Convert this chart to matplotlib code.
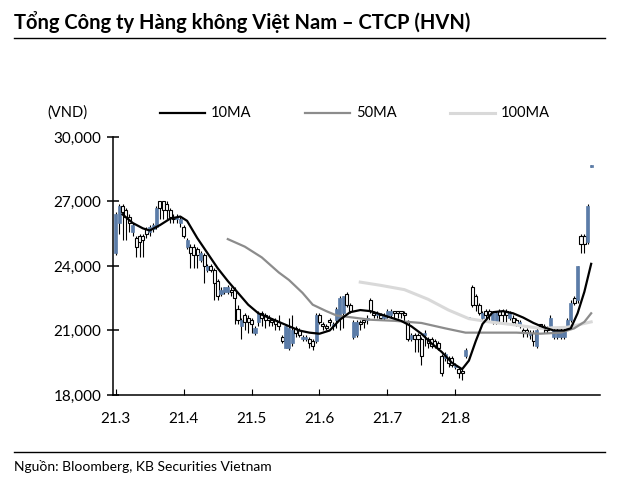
import matplotlib.pyplot as plt
from matplotlib.lines import Line2D
from matplotlib.ticker import FuncFormatter

plt.rcParams['font.family'] = ['Lato', 'DejaVu Sans']

# Giá HVN theo ngày (nghìn VND): open, high, low, close
opens = [24.6, 26.0, 26.8, 26.6, 26.3, 25.6, 25.3, 25.4, 25.4, 25.7,
         25.6, 25.7, 25.8, 27.0, 27.0, 26.9, 26.6, 26.3, 26.2, 26.0,
         25.8, 24.9, 24.9, 24.9, 24.8, 24.3, 24.5, 23.8, 24.0, 23.8,
         23.3, 22.7, 22.8, 22.8, 22.9, 22.9, 22.0, 21.2, 21.7, 21.6,
         21.5, 20.9, 21.4, 21.8, 21.7, 21.6, 21.5, 21.5, 21.4, 20.7,
         20.2, 20.2, 20.4, 21.1, 21.0, 20.6, 20.6, 20.6, 20.5, 20.5,
         21.7, 21.3, 21.2, 21.5, 21.2, 21.5, 21.6, 21.8, 22.7, 22.2,
         20.7, 20.8, 21.4, 21.5, 21.5, 22.4, 21.8, 21.7, 21.7, 21.6,
         21.7, 21.7, 21.9, 21.9, 21.9, 21.8, 21.4, 20.6, 20.8, 20.8,
         20.6, 20.8, 20.6, 20.6, 20.5, 20.4, 19.8, 19.7, 19.7, 19.7,
         19.3, 19.2, 19.1, 19.8, 21.6, 23.0, 22.6, 22.2, 21.6, 21.9,
         21.9, 21.4, 21.4, 21.9, 21.9, 21.9, 21.6, 21.6, 21.5, 21.2,
         21.0, 21.0, 20.8, 20.9, 20.3, 21.3, 21.2, 21.1, 21.2, 20.7,
         20.7, 20.7, 20.7, 21.1, 21.5, 22.5, 22.4, 25.4, 25.4, 25.1,
         28.6]
closes = [26.4, 26.8, 26.5, 26.3, 26.0, 25.9, 24.9, 25.1, 25.2, 25.5,
          25.8, 25.9, 26.7, 26.7, 26.6, 26.6, 26.3, 26.2, 26.3, 26.2,
          25.4, 25.2, 24.6, 24.5, 24.5, 24.6, 24.0, 24.0, 23.8, 23.2,
          22.6, 22.9, 23.0, 23.0, 22.8, 22.5, 21.5, 21.5, 21.4, 21.4,
          21.3, 21.1, 21.8, 21.6, 21.5, 21.5, 21.4, 21.3, 21.2, 20.5,
          21.2, 21.1, 21.0, 20.9, 20.8, 20.7, 20.7, 20.4, 20.3, 21.7,
          21.4, 21.2, 21.1, 21.4, 21.3, 22.0, 22.5, 22.6, 22.2, 21.9,
          21.4, 21.4, 21.3, 21.4, 21.6, 21.9, 21.7, 21.8, 21.6, 21.7,
          21.9, 21.9, 21.8, 21.8, 21.8, 21.7, 20.6, 20.8, 20.6, 20.6,
          19.8, 20.9, 20.4, 20.3, 20.3, 20.2, 19.0, 19.9, 19.5, 19.4,
          19.4, 19.0, 19.0, 20.1, 21.6, 22.2, 22.2, 21.8, 21.8, 21.7,
          21.7, 21.8, 21.8, 21.7, 21.7, 21.7, 21.8, 21.4, 21.3, 21.4,
          20.9, 20.9, 20.9, 20.5, 21.0, 21.2, 21.1, 21.0, 21.6, 21.0,
          21.0, 21.0, 21.0, 21.5, 22.3, 22.3, 24.0, 25.0, 25.0, 26.8,
          28.7]
highs = [26.5, 26.9, 26.9, 26.7, 26.4, 26.0, 25.4, 25.5, 25.5, 25.8,
         25.9, 26.0, 26.8, 27.0, 27.0, 27.0, 26.7, 26.4, 26.4, 26.3,
         25.9, 25.3, 25.0, 25.0, 24.9, 24.7, 24.6, 24.1, 24.1, 23.9,
         23.4, 23.0, 23.0, 23.1, 23.0, 23.0, 22.2, 21.6, 21.8, 21.7,
         21.6, 21.2, 21.9, 21.9, 21.8, 21.7, 21.6, 21.6, 21.7, 20.8,
         21.3, 21.6, 21.7, 21.2, 21.1, 20.8, 20.8, 20.7, 20.6, 21.8,
         21.8, 21.4, 21.3, 21.6, 21.4, 22.1, 22.6, 22.6, 22.8, 22.3,
         21.5, 21.5, 21.5, 21.6, 21.7, 22.5, 21.9, 21.9, 21.8, 21.8,
         22.0, 22.0, 21.9, 21.9, 21.9, 21.9, 21.5, 20.9, 20.9, 20.9,
         20.7, 21.0, 20.7, 20.7, 20.6, 20.5, 19.9, 20.0, 19.8, 19.8,
         19.5, 19.3, 19.2, 20.2, 21.6, 23.1, 22.7, 22.3, 21.9, 22.0,
         22.0, 21.9, 21.9, 22.0, 22.0, 22.0, 21.9, 21.7, 21.6, 21.5,
         21.1, 21.1, 21.0, 21.0, 21.1, 21.3, 21.3, 21.2, 21.7, 21.1,
         21.1, 21.1, 21.1, 21.6, 22.4, 22.6, 24.0, 25.5, 25.5, 26.9,
         28.7]
lows = [24.5, 25.5, 25.2, 25.2, 25.6, 25.4, 24.4, 24.4, 24.4, 25.3,
        25.4, 25.6, 25.7, 26.2, 26.2, 26.2, 26.0, 26.0, 26.0, 25.8,
        25.3, 24.8, 23.9, 23.9, 23.9, 24.2, 23.2, 23.7, 23.7, 22.4,
        22.4, 22.6, 22.7, 22.7, 22.6, 21.3, 21.3, 20.6, 21.0, 20.9,
        20.9, 20.8, 21.2, 21.2, 21.1, 21.2, 21.2, 21.0, 21.0, 20.4,
        20.2, 20.1, 20.3, 20.7, 20.7, 20.5, 20.5, 20.2, 20.1, 20.4,
        21.3, 21.0, 21.0, 21.2, 21.0, 21.1, 21.0, 21.1, 22.1, 21.8,
        20.6, 20.7, 21.0, 21.1, 21.3, 21.8, 21.6, 21.6, 21.5, 21.5,
        21.6, 21.6, 21.6, 21.6, 21.6, 21.4, 20.5, 20.5, 20.0, 20.0,
        19.4, 20.3, 20.2, 20.2, 20.2, 20.1, 18.9, 19.6, 19.3, 19.3,
        19.2, 18.8, 18.7, 19.7, 21.6, 22.1, 21.9, 21.7, 21.5, 21.5,
        21.5, 21.3, 21.3, 21.4, 21.4, 21.4, 21.5, 21.3, 21.2, 21.1,
        20.7, 20.7, 20.6, 20.3, 20.2, 21.1, 20.9, 20.9, 21.1, 20.6,
        20.6, 20.6, 20.6, 21.0, 21.4, 22.2, 22.3, 24.6, 24.6, 25.0,
        28.6]

# Đường trung bình động (nghìn VND), theo chỉ số phiên
ma10_day = [2, 5, 8, 10, 13, 16, 19, 21, 24, 27, 30, 33, 36, 39, 42, 45,
            48, 51, 54, 57, 60, 63, 66, 69, 72, 75, 78, 81, 84, 87, 90, 93,
            96, 99, 102, 104, 106, 108, 111, 114, 117, 120, 123, 126, 129,
            132, 134, 136, 138, 140]
ma10 = [26.4, 26.0, 25.75, 25.65, 25.9, 26.2, 26.3, 26.1, 25.3, 24.6,
        23.9, 23.3, 22.75, 22.2, 21.8, 21.6, 21.4, 21.2, 21.0, 20.9,
        20.85, 21.0, 21.5, 21.85, 21.95, 21.9, 21.75, 21.6, 21.45, 21.2,
        20.85, 20.4, 20.0, 19.5, 19.2, 19.6, 20.5, 21.3, 21.85, 21.9,
        21.8, 21.6, 21.35, 21.15, 21.0, 21.0, 21.1, 21.8, 22.8, 24.1]
ma50_day = [33, 38, 43, 48, 51, 55, 58, 62, 65, 70, 75, 82, 90, 97, 103,
            110, 118, 125, 131, 135, 138, 140]
ma50 = [25.25, 24.9, 24.4, 23.7, 23.35, 22.75, 22.2, 21.9, 21.7, 21.6,
        21.5, 21.45, 21.35, 21.1, 20.9, 20.9, 20.9, 20.85, 20.9, 21.1,
        21.4, 21.8]
ma100_day = [72, 78, 85, 92, 98, 104, 110, 118, 125, 133, 140]
ma100 = [23.25, 23.1, 22.9, 22.45, 21.95, 21.55, 21.4, 21.25, 21.1, 21.15,
         21.4]

month_pos = [0, 20, 40, 60, 80, 100]
month_labels = ["21.3", "21.4", "21.5", "21.6", "21.7", "21.8"]

BLUE = "#5b7ca8"

fig = plt.figure(figsize=(6.19, 4.79), dpi=100)
ax = fig.add_axes([0.1826, 0.1754, 0.9693 - 0.1826, 0.714 - 0.1754])

# nến
w = 0.9
for i in range(len(opens)):
    o, h, l, c = opens[i] * 1000, highs[i] * 1000, lows[i] * 1000, closes[i] * 1000
    ax.vlines(i, l, h, color="black", linewidth=0.8, zorder=2)
    up = c >= o
    bottom = min(o, c)
    height = max(abs(c - o), 40)
    if up:
        ax.bar(i, height, w, bottom=bottom, color=BLUE, edgecolor=BLUE,
               linewidth=0.5, zorder=3)
    else:
        ax.bar(i, height, w, bottom=bottom, color="white", edgecolor="black",
               linewidth=0.8, zorder=3)

ax.plot(ma100_day, [v * 1000 for v in ma100], color="#d9d9d9", linewidth=2.2, zorder=4)
ax.plot(ma50_day, [v * 1000 for v in ma50], color="#8c8c8c", linewidth=1.6, zorder=4)
ax.plot(ma10_day, [v * 1000 for v in ma10], color="black", linewidth=1.6, zorder=5)

ax.set_xlim(-0.8, 142.6)
ax.set_ylim(18000, 30000)
ax.set_yticks([18000, 21000, 24000, 27000, 30000])
ax.yaxis.set_major_formatter(FuncFormatter(lambda v, p: f"{int(v):,}"))
ax.set_xticks(month_pos)
ax.set_xticklabels(month_labels)

for s in ["top", "right"]:
    ax.spines[s].set_visible(False)
for s in ["left", "bottom"]:
    ax.spines[s].set_linewidth(1.1)
ax.tick_params(axis="y", direction="inout", length=9, width=1.1, labelsize=11, pad=4)
ax.tick_params(axis="x", direction="in", length=4, width=0.8, labelsize=11, pad=12)

# tiêu đề và chú thích
fig.text(0.023, 0.955, "Tổng Công ty Hàng không Việt Nam – CTCP (HVN)",
         fontsize=14.5, fontweight="bold", va="center", ha="left")
fig.add_artist(Line2D([0.023, 0.978], [0.921, 0.921], color="black", linewidth=1.0))
fig.add_artist(Line2D([0.023, 0.978], [0.056, 0.056], color="black", linewidth=1.0))
fig.text(0.023, 0.027, "Nguồn: Bloomberg, KB Securities Vietnam",
         fontsize=10, va="center", ha="left")

fig.text(0.076, 0.764, "(VND)", fontsize=10.5, va="center", ha="left")
legend_items = [("10MA", "black", 1.6, 0.258), ("50MA", "#8c8c8c", 1.6, 0.493),
                ("100MA", "#d9d9d9", 2.2, 0.727)]
for name, col, lw, x0 in legend_items:
    fig.add_artist(Line2D([x0, x0 + 0.073], [0.764, 0.764], color=col, linewidth=lw))
    fig.text(x0 + 0.082, 0.764, name, fontsize=10.5, va="center", ha="left")

plt.savefig("out.png", dpi=100)
